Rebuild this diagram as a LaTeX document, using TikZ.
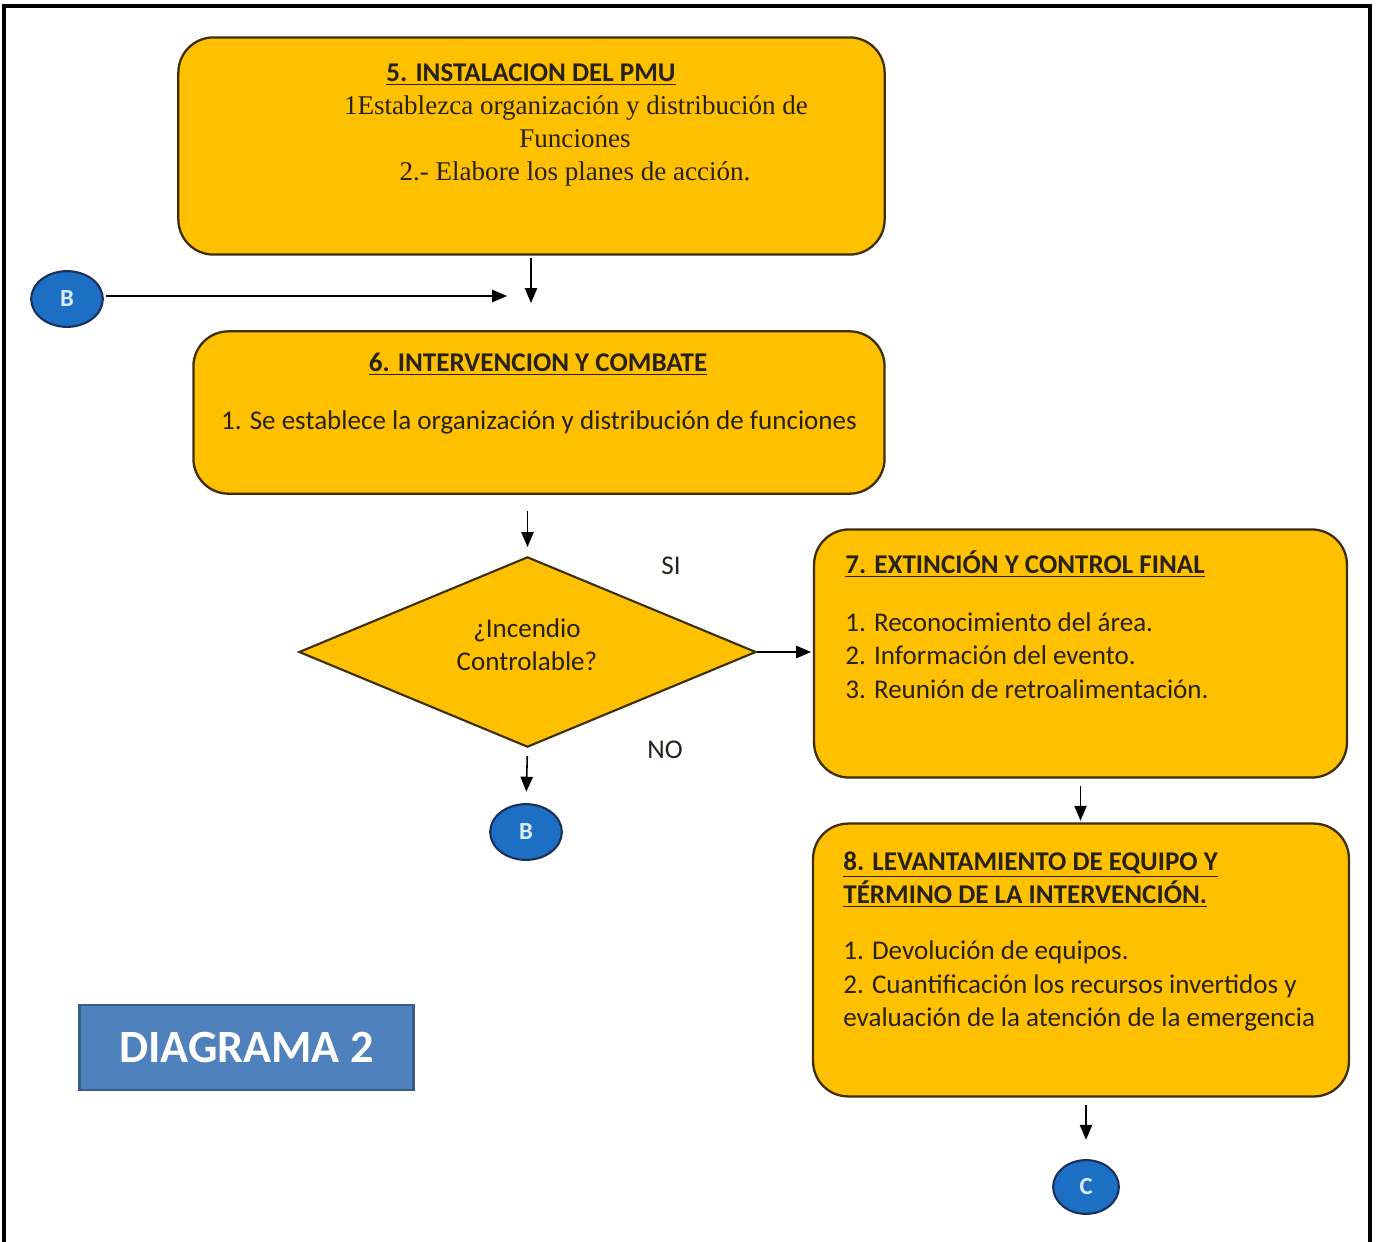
\documentclass[tikz,border=0pt]{standalone}
\usepackage{fontspec}
\setmainfont{Carlito}
\newfontfamily\serifbox{Liberation Serif}
\usetikzlibrary{shapes.geometric,arrows.meta}
\definecolor{boxfill}{HTML}{FFC000}
\definecolor{boxline}{HTML}{3D2E08}
\definecolor{txt}{HTML}{262219}
\definecolor{circfill}{HTML}{1C6FC2}
\definecolor{circline}{HTML}{1B2F5A}
\definecolor{lettercol}{HTML}{DCEEFF}
\definecolor{tagfill}{HTML}{4F81BD}
\definecolor{tagline}{HTML}{385D8A}
\tikzset{
  stepbox/.style={draw=boxline, fill=boxfill, line width=1.3pt, rounded corners=20pt, inner sep=0pt},
  decision/.style={draw=boxline, fill=boxfill, line width=1.2pt, diamond, inner sep=0pt},
  connector/.style={ellipse, draw=circline, fill=circfill, line width=1.2pt, inner sep=0pt,
     text=lettercol, font=\fontsize{14}{16}\selectfont\bfseries},
  body/.style={text=txt, font=\fontsize{15.4}{18}\selectfont, inner sep=0pt, text height=0.72em, text depth=0.22em, yshift=-2.3pt},
  bodybold/.style={body, font=\fontsize{15.4}{18}\selectfont\bfseries},
  bodyleft/.style={body, anchor=west},
  boldleft/.style={bodybold, anchor=west},
  sertext/.style={text=txt, font=\serifbox\fontsize{15.4}{18}\selectfont, inner sep=0pt, text height=0.72em, text depth=0.22em, yshift=-2.3pt},
  arr/.style={-{Triangle[length=8.5pt,width=7pt]}, line width=0.9pt, draw=black},
}
\begin{document}
\begin{tikzpicture}[x=0.02cm,y=-0.02cm]
\useasboundingbox (0,0) rectangle (1376,1241);
\fill[white] (0,0) rectangle (1376,1241);
\begin{scope}
\clip (0,0) rectangle (1376,1241);
\draw[line width=2.4pt, black] (4,6) rectangle (1370,1270);
\end{scope}

% Box 5
\node[stepbox, minimum width=402pt, minimum height=123.6pt] (box5) at (531.5,146) {};
\node[bodybold] (t5) at (531,73) {\underline{5. INSTALACION DEL PMU}};
\node[sertext] (t5a) at (576,106) {1Establezca organización y distribución de};
\node[sertext] (t5b) at (575,139) {Funciones};
\node[sertext] (t5c) at (575,172) {2.- Elabore los planes de acción.};

% B connector left
\node[connector, minimum width=40.8pt, minimum height=31.7pt] (b1) at (67,299) {B};
\coordinate (join) at (531,303);
\coordinate (bend) at (507,296);
\draw[arr] (box5.south -| join) ++(0,2) -- (join);
\draw[arr] (b1.east) ++(2,-3) -- (bend);

% Box 6
\node[stepbox, minimum width=393.4pt, minimum height=92.4pt] (box6) at (539,412.5) {};
\node[bodybold] (t6) at (538,363) {\underline{6. INTERVENCION Y COMBATE}};
\node[body] (t6a) at (539,421) {1. Se establece la organización y distribución de funciones};

% Decision
\node[decision, minimum width=260.2pt, minimum height=108.3pt] (dia) at (527.5,652) {};
\node[body] (d1) at (527,629) {¿Incendio};
\node[body] (d2) at (527,662) {Controlable?};
\node[body] (si) at (671,566) {SI};
\node[body] (no) at (665,750) {NO};
\draw[arr, shorten <=9pt, shorten >=5pt] (box6.south -| dia.north) -- (dia.north);

% B connector bottom
\node[connector, minimum width=40.8pt, minimum height=31.7pt] (b2) at (526,832) {B};
\draw[arr, shorten <=4.5pt, shorten >=6.5pt] (dia.south) -- (b2.north);

% Box 7
\node[stepbox, minimum width=303.3pt, minimum height=141.2pt] (box7) at (1080.5,653.5) {};
\node[boldleft] (t7) at (845,565) {\underline{7. EXTINCIÓN Y CONTROL FINAL}};
\node[bodyleft] (t7a) at (845,623) {1. Reconocimiento del área.};
\node[bodyleft] (t7b) at (845,656) {2. Información del evento.};
\node[bodyleft] (t7c) at (845,690) {3. Reunión de retroalimentación.};
\draw[arr, shorten >=1pt] (dia.east) -- (dia.east -| box7.west);

% Box 8
\node[stepbox, minimum width=305pt, minimum height=155.3pt] (box8) at (1081,960) {};
\node[boldleft] (t8a) at (843,862) {\underline{8. LEVANTAMIENTO DE EQUIPO Y}};
\node[boldleft] (t8b) at (843,895) {\underline{TÉRMINO DE LA INTERVENCIÓN.}};
\node[bodyleft] (t8c) at (843,951) {1. Devolución de equipos.};
\node[bodyleft] (t8d) at (843,985) {2. Cuantificación los recursos invertidos y};
\node[bodyleft] (t8e) at (843,1018) {evaluación de la atención de la emergencia};
\draw[arr, shorten <=4pt, shorten >=1pt] (box7.south) -- (box7.south |- box8.north);

% C connector
\node[connector, minimum width=37.4pt, minimum height=30.6pt] (c1) at (1086,1187) {C};
\draw[arr, shorten <=4.5pt, shorten >=11pt] (box8.south -| c1.north) -- (c1.north);

% Tag
\node[draw=tagline, fill=tagfill, line width=1.5pt, minimum width=190pt, minimum height=48.2pt,
      text=white, font=\fontsize{26.3}{30}\selectfont\bfseries] (tag) at (246.5,1047.5) {DIAGRAMA 2};
\end{tikzpicture}
\end{document}
